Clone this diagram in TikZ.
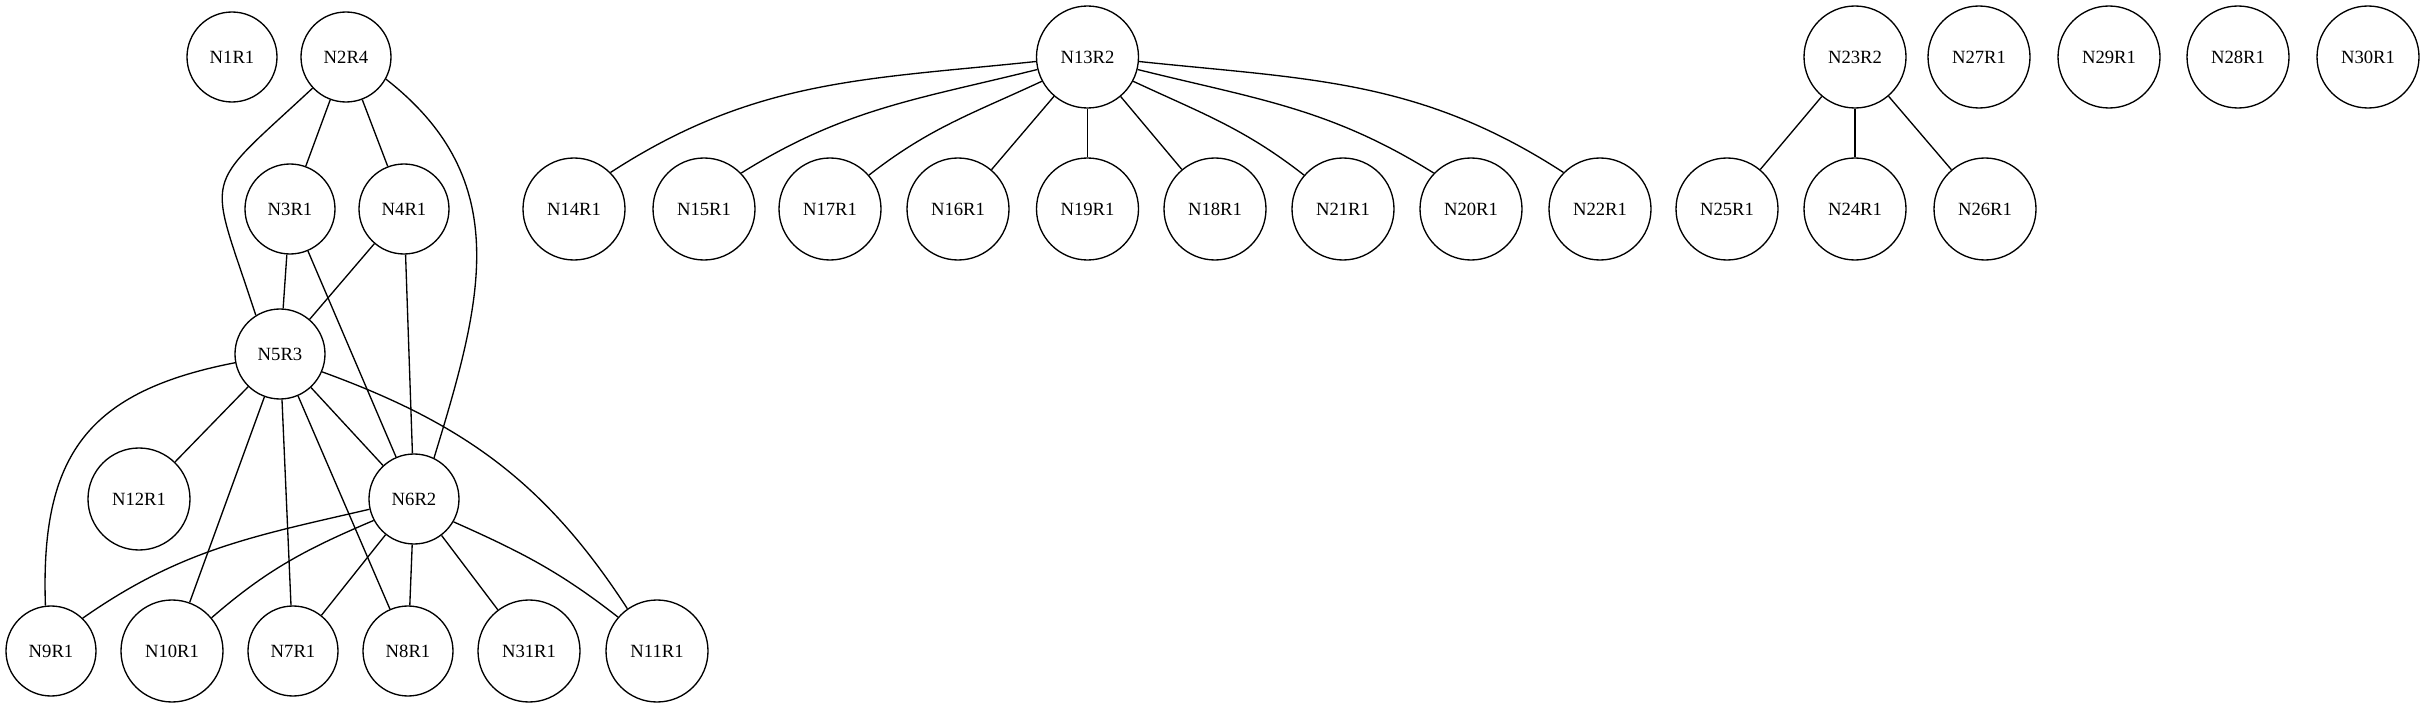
\documentclass[tikz,border=0pt]{standalone}
\usepackage{fontspec}
\setmainfont{Liberation Serif}
\begin{document}
\begin{tikzpicture}[x=0.75pt,y=0.75pt,
  nd/.style={draw,circle,line width=1pt,inner sep=0pt,minimum size=67.5pt,font=\fontsize{14}{16}\selectfont},
  nw/.style={nd,minimum size=76.5pt},
  ed/.style={line width=1pt}]
\useasboundingbox (0,0) rectangle (2424,-709);
% left cluster
\node[nd] (N1R1) at (232,-57) {N1R1};
\node[nd] (N2R4) at (346,-57) {N2R4};
\node[nd] (N3R1) at (290,-209) {N3R1};
\node[nd] (N4R1) at (404,-209) {N4R1};
\node[nd] (N5R3) at (280,-354) {N5R3};
\node[nw] (N12R1) at (139,-499) {N12R1};
\node[nd] (N6R2) at (414,-499) {N6R2};
\node[nd] (N9R1) at (51,-651) {N9R1};
\node[nw] (N10R1) at (172,-651) {N10R1};
\node[nd] (N7R1) at (293,-651) {N7R1};
\node[nd] (N8R1) at (408,-651) {N8R1};
\node[nw] (N31R1) at (529,-651) {N31R1};
\node[nw] (N11R1) at (657,-651) {N11R1};
% middle cluster
\node[nw] (N13R2) at (1087.5,-57) {N13R2};
\node[nw] (N14R1) at (574,-209) {N14R1};
\node[nw] (N15R1) at (704,-209) {N15R1};
\node[nw] (N17R1) at (830,-209) {N17R1};
\node[nw] (N16R1) at (958,-209) {N16R1};
\node[nw] (N19R1) at (1087.5,-209) {N19R1};
\node[nw] (N18R1) at (1215,-209) {N18R1};
\node[nw] (N21R1) at (1343,-209) {N21R1};
\node[nw] (N20R1) at (1471,-209) {N20R1};
\node[nw] (N22R1) at (1600,-209) {N22R1};
% right cluster
\node[nw] (N23R2) at (1855,-57) {N23R2};
\node[nw] (N27R1) at (1979,-57) {N27R1};
\node[nw] (N29R1) at (2109,-57) {N29R1};
\node[nw] (N28R1) at (2238,-57) {N28R1};
\node[nw] (N30R1) at (2368,-57) {N30R1};
\node[nw] (N25R1) at (1727,-209) {N25R1};
\node[nw] (N24R1) at (1855,-209) {N24R1};
\node[nw] (N26R1) at (1985,-209) {N26R1};
% edges left
\draw[ed] (N2R4) -- (N3R1);
\draw[ed] (N2R4) -- (N4R1);
\draw[ed] (N2R4.223) to[out=223,in=108,looseness=1.7] (N5R3.122);
\draw[ed] (N2R4.331) to[out=-38,in=73,looseness=1.1] (N6R2.64);
\draw[ed] (N3R1) -- (N5R3);
\draw[ed] (N3R1) -- (N6R2);
\draw[ed] (N4R1) -- (N5R3);
\draw[ed] (N4R1) -- (N6R2);
\draw[ed] (N5R3.191) to[out=191,in=92,looseness=1.25] (N9R1.97);
\draw[ed] (N5R3) -- (N12R1);
\draw[ed] (N5R3) -- (N10R1);
\draw[ed] (N5R3) -- (N7R1);
\draw[ed] (N5R3) -- (N8R1);
\draw[ed] (N5R3) -- (N6R2);
\draw[ed] (N5R3.337) to[out=-20,in=123] (N11R1.125);
\draw[ed] (N6R2.193) to[out=193,in=35] (N9R1.46);
\draw[ed] (N6R2.208) to[out=203,in=41] (N10R1.40);
\draw[ed] (N6R2) -- (N7R1);
\draw[ed] (N6R2) -- (N8R1);
\draw[ed] (N6R2) -- (N31R1);
\draw[ed] (N6R2.330) to[out=-24,in=142] (N11R1.139);
% edges middle
\draw[ed] (N13R2.185) to[out=186,in=33] (N14R1.45);
\draw[ed] (N13R2.194) to[out=194,in=32] (N15R1.44);
\draw[ed] (N13R2.208) to[out=205,in=38] (N17R1.41);
\draw[ed] (N13R2) -- (N16R1);
\draw[ed] (N13R2) -- (N19R1);
\draw[ed] (N13R2) -- (N18R1);
\draw[ed] (N13R2.-28) to[out=-25,in=142] (N21R1.139);
\draw[ed] (N13R2.-14) to[out=-14,in=148] (N20R1.136);
\draw[ed] (N13R2.-5) to[out=-6,in=147] (N22R1.135);
% edges right
\draw[ed] (N23R2) -- (N25R1);
\draw[ed] (N23R2) -- (N24R1);
\draw[ed] (N23R2) -- (N26R1);
\end{tikzpicture}
\end{document}
